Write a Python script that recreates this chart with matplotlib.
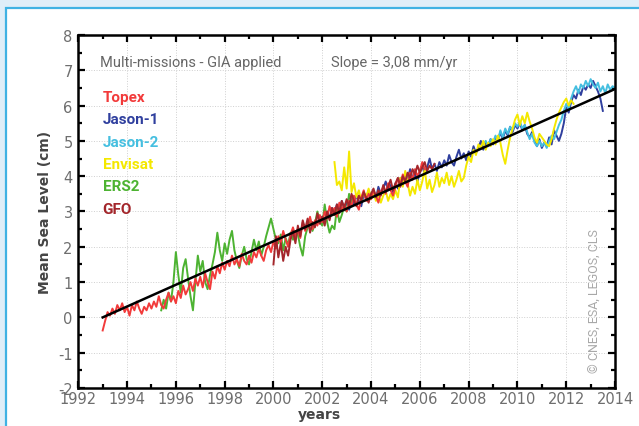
import numpy as np
import matplotlib
matplotlib.use("Agg")
import matplotlib.pyplot as plt
from matplotlib.patches import Rectangle
from matplotlib.ticker import MultipleLocator

plt.rcParams["axes.unicode_minus"] = False

# --- data (cm), sampled every 0.1 yr from each mission's start year ---
STEP = 0.1
topex_start = 1993.0
topex = [-0.37, -0.1, 0.15, 0.05, 0.25, 0.1, 0.35, 0.2, 0.4, 0.15,
         0.3, 0.05, 0.35, 0.2, 0.45, 0.25, 0.1, 0.3, 0.2, 0.4,
         0.25, 0.45, 0.3, 0.6, 0.35, 0.25, 0.5, 0.7, 0.45, 0.6,
         0.4, 0.75, 0.55, 0.9, 0.65, 0.8, 1.0, 0.75, 1.1, 0.9,
         1.15, 0.85, 1.25, 1.0, 0.8, 1.3, 1.1, 1.45, 1.25, 1.55,
         1.35, 1.6, 1.45, 1.75, 1.5, 1.65, 1.45, 1.8, 1.6, 1.5,
         1.75, 1.55, 1.85, 1.7, 1.95, 1.75, 1.6, 1.9, 2.05, 1.85,
         2.15, 1.95, 2.3, 2.1, 2.45, 2.2, 2.0, 2.35, 2.55, 2.3,
         2.5, 2.25, 2.7, 2.45, 2.6, 2.85, 2.5, 2.75, 2.6, 2.9,
         2.7, 3.0, 2.8, 3.15, 2.9, 3.1, 2.85, 3.25, 3.05, 3.2,
         3.0, 3.3, 3.15, 3.45, 3.2, 3.05, 3.4, 3.6, 3.3, 3.5,
         3.35, 3.6, 3.45, 3.25, 3.55, 3.7, 3.5, 3.8, 3.6, 3.45,
         3.7, 3.95, 3.75, 4.05, 3.85, 3.7, 4.1, 3.9, 4.2, 4.0,
         4.15, 4.4, 4.2]

jason1_start = 2002.0
jason1 = [2.85, 2.7, 3.0, 2.8, 3.1, 2.95, 3.2, 3.0, 3.3, 3.1,
          3.25, 3.05, 3.35, 3.2, 3.45, 3.3, 3.15, 3.5, 3.35, 3.6,
          3.4, 3.55, 3.35, 3.7, 3.5, 3.65, 3.85, 3.6, 3.75, 3.55,
          3.8, 3.65, 3.95, 3.75, 4.1, 3.9, 4.2, 3.95, 4.05, 3.85,
          4.1, 4.3, 4.05, 4.25, 4.5, 4.2, 4.35, 4.15, 4.4, 4.25,
          4.45, 4.3, 4.6, 4.4, 4.3, 4.55, 4.75, 4.5, 4.65, 4.45,
          4.7, 4.55, 4.85, 4.65, 4.8, 5.0, 4.75, 4.95, 4.85, 5.05,
          4.9, 5.1, 5.0, 5.25, 5.05, 5.3, 5.15, 5.4, 5.25, 5.45,
          5.35, 5.5, 5.3, 5.45, 5.2, 5.1, 5.25, 5.0, 4.85, 5.05,
          4.8, 4.95, 4.85, 5.1, 4.9, 5.3, 5.15, 5.0, 5.2, 5.5,
          5.95, 5.8, 6.1, 6.3, 6.2, 6.45, 6.3, 6.55, 6.45, 6.6,
          6.5, 6.7, 6.55, 6.4, 6.2, 5.85]

jason2_start = 2008.6
jason2 = [4.9, 5.0, 4.85, 5.05,
          4.95, 5.15, 5.0, 5.3, 5.1, 5.35, 5.2, 5.4, 5.3, 5.5,
          5.4, 5.55, 5.35, 5.45, 5.25, 5.05, 5.2, 4.95, 4.85, 5.0,
          4.85, 4.95, 4.8, 5.0, 5.15, 5.05, 5.25, 5.45, 5.6, 5.85,
          6.05, 5.9, 6.2, 6.4, 6.55, 6.35, 6.6, 6.5, 6.7, 6.55,
          6.75, 6.6, 6.5, 6.65, 6.4, 6.55, 6.35, 6.6, 6.45, 6.55,
          6.5]

envisat_start = 2002.5
envisat = [4.4, 3.75, 3.85, 3.6, 4.25,
           3.65, 4.7, 3.55, 3.8, 3.4, 3.6, 3.3, 3.55, 3.4, 3.65,
           3.35, 3.55, 3.3, 3.5, 3.25, 3.45, 3.6, 3.3, 3.5, 3.35,
           3.6, 3.4, 3.95, 3.7, 4.15, 3.8, 3.45, 3.7, 3.5, 3.9,
           3.6, 3.85, 4.2, 3.65, 3.9, 3.55, 3.75, 4.1, 3.7, 3.95,
           3.8, 4.1, 3.75, 4.0, 3.7, 3.9, 4.15, 3.85, 3.95, 4.3,
           4.55, 4.4, 4.75, 4.6, 4.9, 4.8, 5.0, 4.75, 4.95, 4.85,
           5.05, 4.9, 5.15, 4.95, 4.6, 4.35, 4.75, 5.1, 5.35, 5.6,
           5.75, 5.45, 5.7, 5.5, 5.8, 5.55, 5.35, 5.1, 4.95, 5.2,
           5.1, 5.0, 4.9, 4.85, 5.05, 5.35, 5.6, 5.8, 5.95, 6.1,
           6.2, 6.0, 6.15, 6.05]

ers2_start = 1995.4
ers2 = [0.2, 0.5, 0.25, 0.7, 0.45, 1.0,
        1.85, 1.2, 0.7, 1.4, 1.65, 1.1, 0.6, 0.2, 1.0, 1.75,
        1.3, 1.6, 1.0, 0.8, 1.2, 1.5, 1.85, 2.4, 1.9, 1.6,
        2.1, 1.8, 2.2, 2.45, 1.9, 1.6, 1.4, 1.75, 2.0, 1.65,
        1.5, 1.85, 2.2, 1.9, 2.15, 1.75, 2.0, 2.3, 2.55, 2.8,
        2.5, 2.2, 2.1, 2.35, 1.9, 2.25, 2.05, 2.4, 2.2, 2.45,
        2.35, 2.0, 1.75, 2.3, 2.55, 2.8, 2.45, 2.65, 3.0, 2.7,
        2.6, 3.2, 2.7, 2.4, 2.6, 2.5, 3.1, 2.7, 2.9, 3.15,
        3.0, 3.5, 3.25, 3.4]

gfo_start = 2000.0
gfo = [1.5, 2.3, 1.7, 2.1, 1.6, 2.0, 1.75, 2.2, 2.45, 2.1,
       2.6, 2.3, 2.75, 2.5, 2.8, 2.4, 2.7, 2.55, 2.95, 2.65,
       2.85, 2.6, 3.0, 2.75, 3.1, 2.9, 3.2, 2.95, 3.3, 3.1,
       3.35, 3.15, 3.5, 3.3, 3.15, 3.45, 3.3, 3.55, 3.4, 3.25,
       3.5, 3.65, 3.4, 3.6, 3.45, 3.75, 3.55, 3.7, 3.9, 3.6,
       3.8, 3.95, 3.7, 4.0, 3.85, 4.1, 3.95, 4.2, 4.05, 4.3,
       4.1, 4.25, 4.4, 4.15, 4.3, 4.2, 4.35]

trend_years = [1993.0, 2014.0]
trend_vals = [0.0, 6.47]

missions = ["Topex", "Jason-1", "Jason-2", "Envisat", "ERS2", "GFO"]
colors = {"Topex": "#f23b3b", "Jason-1": "#2f3f9e", "Jason-2": "#45bfe0",
          "Envisat": "#f4e800", "ERS2": "#4db332", "GFO": "#a3262b"}
series = {"Topex": (topex_start, topex), "Jason-1": (jason1_start, jason1),
          "Jason-2": (jason2_start, jason2), "Envisat": (envisat_start, envisat),
          "ERS2": (ers2_start, ers2), "GFO": (gfo_start, gfo)}
draw_order = ["Jason-1", "Jason-2", "Envisat", "ERS2", "Topex", "GFO"]

NARROW = ["Roboto", "DejaVu Sans"]

fig = plt.figure(figsize=(6.39, 4.27), dpi=100)
fig.patch.set_facecolor("#dfeef8")
panel = Rectangle((6 / 639, -0.1), 1.2, (427 - 9) / 427 + 0.1,
                  transform=fig.transFigure, fc="white", ec="#3fb2e3", lw=1.6, zorder=-10)
fig.patches.append(panel)

ax = fig.add_axes([0.1225, 0.089, 0.840, 0.8267], zorder=5)
for name in draw_order:
    start, vals = series[name]
    yrs = start + STEP * np.arange(len(vals))
    ax.plot(yrs, vals, color=colors[name], lw=1.4, zorder=2)
ax.plot(trend_years, trend_vals, color="black", lw=1.8, zorder=3)

ax.set_xlim(1992, 2014); ax.set_ylim(-2, 8)
ax.xaxis.set_major_locator(MultipleLocator(2)); ax.xaxis.set_minor_locator(MultipleLocator(1))
ax.yaxis.set_major_locator(MultipleLocator(1)); ax.yaxis.set_minor_locator(MultipleLocator(0.5))
ax.tick_params(which="both", direction="in", top=True, right=True, width=1.6, colors="black",
               labelcolor="#6e6e6e", labelsize=10.5)
ax.tick_params(which="major", length=5)
ax.tick_params(which="minor", length=3)
ax.tick_params(axis="x", pad=2)
ax.tick_params(axis="y", pad=4)
for s in ax.spines.values():
    s.set_linewidth(1.8)
ax.grid(which="major", color="#cfcfcf", lw=0.7, ls=":")

ax.set_ylabel("Mean Sea Level (cm)", fontsize=10, fontweight="bold", color="#444444", labelpad=4)
ax.set_xlabel("years", fontsize=10, fontweight="bold", color="#444444", labelpad=-2)
ax.xaxis.set_label_coords(0.45, -0.055)

ax.text(1992.9, 7.23, "Multi-missions - GIA applied", family=NARROW, fontsize=10.5,
        color="#666666", va="center")
ax.text(2002.35, 7.23, "Slope = 3,08 mm/yr", family=NARROW, fontsize=10.5,
        color="#666666", va="center")
for i, name in enumerate(missions):
    ax.text(1993.0, 6.24 - 0.632 * i, name, family=NARROW, fontsize=11,
            fontweight="bold", color=colors[name], va="center")
ax.text(2013.2, -1.55, "\u00a9 CNES, ESA, LEGOS, CLS", rotation=90, family=NARROW,
        fontsize=9, color="#a8a8a8", va="bottom", ha="center")

fig.savefig("out.png", dpi=100, facecolor=fig.get_facecolor())
